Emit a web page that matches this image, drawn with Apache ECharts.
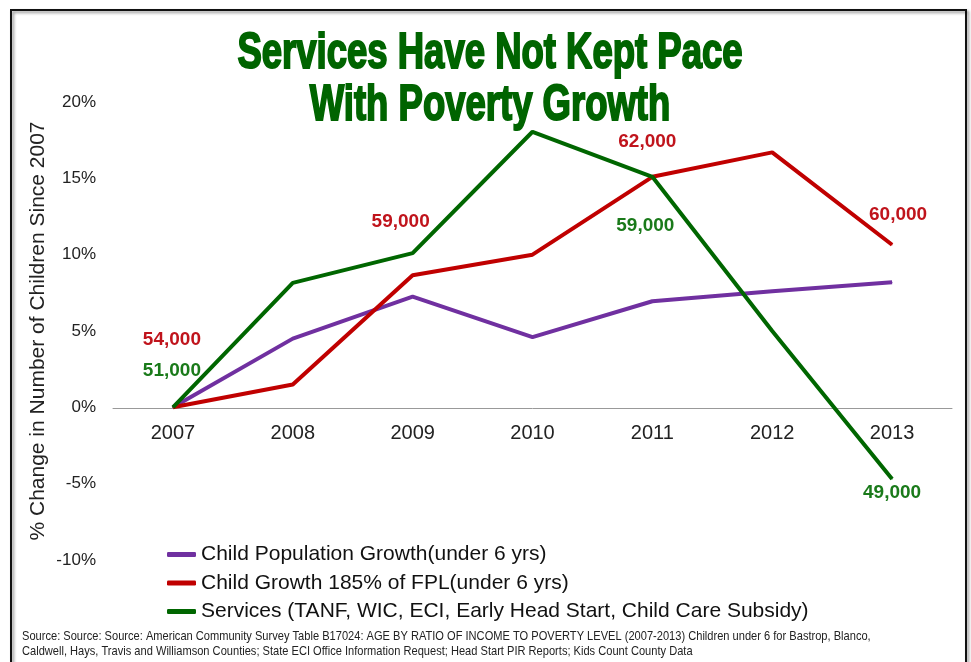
<!DOCTYPE html>
<html>
	<head>
		<meta charset="utf-8">
		<title>Services Have Not Kept Pace</title>
		<script src="https://cdn.jsdelivr.net/npm/echarts@6/dist/echarts.min.js"></script>
		<style>
			html, body { margin: 0; padding: 0; background: #fff; }
		</style>
	</head>
	<body>
		<div id="main" style="width: 971px;height:662px;"></div>
		<script type="text/javascript">
		// values (% change since 2007)
		var years = ['2007', '2008', '2009', '2010', '2011', '2012', '2013'];
		var childPop = [0, 4.5, 7.25, 4.6, 6.95, 7.6, 8.2];
		var childFpl = [0, 1.5, 8.65, 10.0, 15.1, 16.7, 10.65];
		var services = [0, 8.15, 10.1, 18.05, 15.1, 5.0, -4.7];
		// counts printed next to some points
		var fplLabels = ['54,000', '', '59,000', '', '62,000', '', '60,000'];
		var servLabels = ['51,000', '', '', '', '59,000', '', '49,000'];
		var seriesNames = [
			'Child Population Growth(under 6 yrs)',
			'Child Growth 185% of FPL(under 6 yrs)',
			'Services (TANF, WIC, ECI, Early Head Start, Child Care Subsidy)'
		];
		var sourceText = 'Source: Source: Source: American Community Survey Table B17024: AGE BY RATIO OF INCOME TO POVERTY LEVEL (2007-2013) Children under 6 for Bastrop, Blanco,\n' +
			'Caldwell, Hays, Travis and Williamson Counties; State ECI Office Information Request; Head Start PIR Reports; Kids Count County Data';

		var purple = '#7030a0';
		var red = '#c00000';
		var green = '#006600';

		// label nudges, per year index
		var fplOffsets = {0: [-1, -68], 2: [-12, -54], 4: [-5, -35], 6: [6, -30]};
		var servOffsets = {0: [-1, -37], 4: [-7, 49], 6: [0, 14]};

		function withLabels(values, labels, offsets, color) {
			return values.map(function (v, i) {
				if (!labels[i]) return v;
				return {
					value: v,
					label: {
						show: true,
						formatter: labels[i],
						position: 'inside',
						offset: offsets[i],
						color: color,
						fontFamily: 'Arial, "Liberation Sans", sans-serif',
						fontWeight: 'bold',
						fontSize: 19
					}
				};
			});
		}

		function lineSeries(name, data, color) {
			return {
				name: name,
				type: 'line',
				data: data,
				symbol: 'circle',
				symbolSize: 1,
				itemStyle: { color: color },
				lineStyle: { color: color, width: 4 },
				emphasis: { disabled: true },
				z: 2
			};
		}

		var myChart = echarts.init(document.getElementById('main'));
		myChart.setOption({
			animation: false,
			backgroundColor: '#fff',
			textStyle: { fontFamily: 'Arial, "Liberation Sans", sans-serif' },
			grid: {
				left: 113,
				right: 19,
				top: 102,
				bottom: 102,
				outerBoundsMode: 'none'
			},
			graphic: [
				{
					type: 'rect',
					shape: { x: 11, y: 10, width: 955, height: 700 },
					style: {
						fill: 'none',
						stroke: '#111',
						lineWidth: 2,
						shadowBlur: 3,
						shadowOffsetX: 2,
						shadowOffsetY: 2,
						shadowColor: 'rgba(0,0,0,0.45)'
					},
					silent: true
				},
				{
					// narrow heavy headline: squeeze a bold sans horizontally
					type: 'text',
					x: 490,
					y: 28,
					scaleX: 0.73,
					style: {
						text: 'Services Have Not Kept Pace\nWith Poverty Growth',
						font: 'bold 50px Arial, "Liberation Sans", sans-serif',
						lineHeight: 52,
						textAlign: 'center',
						textVerticalAlign: 'top',
						fill: '#006400',
						stroke: '#006400',
						lineWidth: 2,
						shadowBlur: 2,
						shadowOffsetX: 1,
						shadowOffsetY: 1,
						shadowColor: 'rgba(0,0,0,0.3)'
					},
					silent: true
				},
				{
					type: 'text',
					x: 22,
					y: 629,
					scaleX: 0.853,
					style: {
						text: sourceText,
						font: '13px Arial, "Liberation Sans", sans-serif',
						lineHeight: 15,
						fill: '#222'
					},
					silent: true
				}
			],
			legend: {
				orient: 'vertical',
				left: 162,
				top: 539,
				itemWidth: 29,
				itemHeight: 5,
				itemGap: 7.5,
				icon: 'roundRect',
				data: seriesNames,
				textStyle: {
					fontSize: 21,
					color: '#111',
					fontFamily: 'Arial, "Liberation Sans", sans-serif'
				},
				selectedMode: false
			},
			xAxis: {
				type: 'category',
				data: years,
				// axis (line + labels) sits on the 0% level: 152px above the grid bottom
				offset: -152,
				axisLine: { onZero: false, lineStyle: { color: '#999', width: 1 } },
				axisTick: { show: false },
				axisLabel: { fontSize: 20, color: '#222', margin: 15 },
				splitLine: { show: false }
			},
			yAxis: {
				type: 'value',
				min: -10,
				max: 20,
				interval: 5,
				name: '% Change in Number of Children Since 2007',
				nameLocation: 'middle',
				nameGap: 64,
				nameMoveOverlap: false,
				nameTextStyle: { fontSize: 21, color: '#222' },
				axisLine: { show: false },
				axisTick: { show: false },
				splitLine: { show: false },
				axisLabel: { formatter: '{value}%', fontSize: 17, color: '#222', margin: 17 }
			},
			series: [
				lineSeries(seriesNames[0], childPop, purple),
				lineSeries(seriesNames[1], withLabels(childFpl, fplLabels, fplOffsets, '#c0141c'), red),
				lineSeries(seriesNames[2], withLabels(services, servLabels, servOffsets, '#1a7a1a'), green)
			]
		});
		</script>
	</body>
</html>
